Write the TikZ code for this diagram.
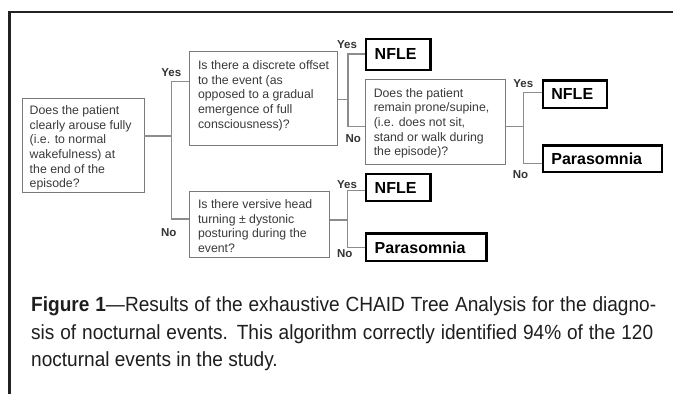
\documentclass[tikz,border=0pt]{standalone}
\usepackage{fontspec}
\setmainfont{Liberation Sans}
\newfontfamily\capfont[FakeStretch=0.93]{Liberation Sans}
\definecolor{boxgray}{HTML}{7A7A7A}
\definecolor{linegray}{HTML}{8C8C8C}
\definecolor{qtextc}{HTML}{3A3A3A}
\definecolor{labc}{HTML}{333333}
\definecolor{capc}{HTML}{1E1E1E}
\definecolor{framec}{HTML}{222222}
\tikzset{
  qbox/.style={draw=boxgray, line width=0.9pt, inner sep=0pt, fill=white},
  qtext/.style={font=\fontsize{12.3}{14.6}\selectfont, align=left, inner sep=0pt, anchor=north west, text=qtextc},
  outbox/.style={draw=black, line width=2.4pt, inner xsep=8.5pt, inner ysep=0pt, align=left, fill=white,
     font=\fontsize{16}{18}\selectfont\bfseries},
  lab/.style={font=\fontsize{11.5}{13}\selectfont\bfseries, text=labc, inner sep=0pt},
  conn/.style={draw=linegray, line width=1.1pt},
  captext/.style={font=\capfont\fontsize{20.5}{28}\selectfont, text=capc, inner sep=0pt, anchor=base west}
}
\begin{document}
\begin{tikzpicture}[x=1pt,y=-1pt]
\useasboundingbox (0,0) rectangle (673,394);
% frame
\draw[framec, line width=2.6pt] (9.35,394) -- (9.35,12) -- (673,12);

% question boxes
\node[qbox, minimum width=121.3pt, minimum height=93.3pt] (A) at (83.35,145.35) {};
\node[qtext] (At) at ([shift={(7.3,7.3)}]A.north west) {Does the patient\\clearly arouse fully\\(i.e. to normal\\wakefulness) at\\the end of the\\episode?};

\node[qbox, minimum width=148.4pt, minimum height=94pt] (B) at (263.5,98.7) {};
\node[qtext] (Bt) at ([shift={(9,9.3)}]B.north west) {Is there a discrete offset\\to the event (as\\opposed to a gradual\\emergence of full\\consciousness)?};

\node[qbox, minimum width=140pt, minimum height=65.6pt] (C) at (259.3,224.5) {};
\node[qtext] (Ct) at ([shift={(9,8.3)}]C.north west) {Is there versive head\\turning ± dystonic\\posturing during the\\event?};

\node[qbox, minimum width=140pt, minimum height=84.5pt] (D) at (435,122) {};
\node[qtext] (Dt) at ([shift={(9,8.8)}]D.north west) {Does the patient\\remain prone/supine,\\(i.e. does not sit,\\stand or walk during\\the episode)?};

% outcome boxes
\node[outbox, minimum width=64.3pt, text width=47.3pt, minimum height=31.1pt] (N1) at (398.35,54.3) {NFLE};
\node[outbox, minimum width=64.2pt, text width=47.2pt, minimum height=27.6pt] (N2) at (575,94.3) {NFLE};
\node[outbox, minimum width=119.2pt, text width=102.2pt, minimum height=26.6pt] (P1) at (602.5,158.8) {Parasomnia};
\node[outbox, minimum width=64.3pt, text width=47.3pt, minimum height=27.2pt] (N3) at (398.35,187.5) {NFLE};
\node[outbox, minimum width=120.3pt, text width=103.3pt, minimum height=27.6pt] (P2) at (426.35,247.3) {Parasomnia};

% connectors
\coordinate (jA) at (171.7,136);
\coordinate (jAt) at (171.7,81.7);
\coordinate (jAb) at (171.7,219);
\draw[conn] (A.east |- jA) -- (jA);
\draw[conn] (B.west |- jAt) -- (jAt) -- (jAb) -- (C.west |- jAb);

\coordinate (jB) at (348,99.3);
\coordinate (jBt) at (348,54);
\coordinate (jBb) at (348,126.7);
\draw[conn] (B.east |- jB) -- (jB);
\draw[conn] (N1.west |- jBt) -- (jBt) -- (jBb) -- (D.west |- jBb);

\coordinate (jD) at (523.3,126.7);
\coordinate (jDt) at (523.3,92.3);
\coordinate (jDb) at (523.3,163.3);
\draw[conn] (D.east |- jD) -- (jD);
\draw[conn] (N2.west |- jDt) -- (jDt) -- (jDb) -- (P1.west |- jDb);

\coordinate (jC) at (347.7,220);
\coordinate (jCt) at (347.7,190.7);
\coordinate (jCb) at (347.7,247.3);
\draw[conn] (C.east |- jC) -- (jC);
\draw[conn] (N3.west |- jCt) -- (jCt) -- (jCb) -- (P2.west |- jCb);

% yes / no labels
\node[lab] (yA) at (171.3,72.7) {Yes};
\node[lab] (nA) at (168.8,232.3) {No};
\node[lab] (yB) at (347,45) {Yes};
\node[lab] (nB) at (353.3,138.3) {No};
\node[lab] (yD) at (523.3,83.3) {Yes};
\node[lab] (nD) at (520.5,175) {No};
\node[lab] (yC) at (347,184.5) {Yes};
\node[lab] (nC) at (344.7,253.5) {No};

% caption
\node[captext] (cap1) at (31,311) {\makebox[625pt][s]{\textbf{Figure 1}—Results of the exhaustive CHAID Tree Analysis for the diagno-}};
\node[captext] (cap2) at (31,339.3) {\makebox[622pt][s]{sis of nocturnal events. This algorithm correctly identified 94\% of the 120}};
\node[captext] (cap3) at (31,366.7) {nocturnal events in the study.};
\end{tikzpicture}
\end{document}
